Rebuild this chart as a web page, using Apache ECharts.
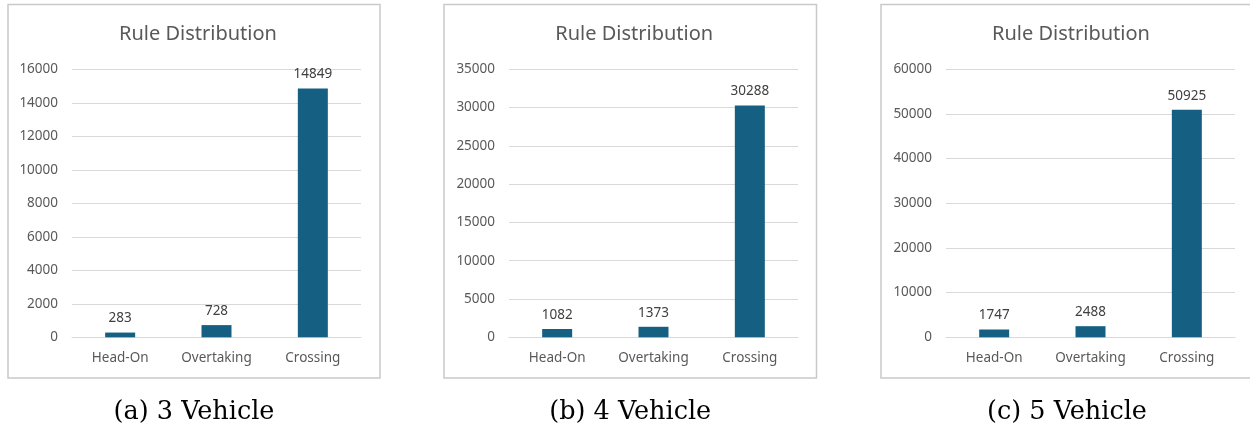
<!DOCTYPE html>
<html>
<head>
<meta charset="utf-8">
<script src="https://cdn.jsdelivr.net/npm/echarts@6/dist/echarts.min.js"></script>
<style>
  html, body { margin: 0; padding: 0; background: #ffffff; }
  #chart { width: 1250px; height: 428px; }
</style>
</head>
<body>
<div id="chart"></div>
<script>
// Rule counts per encounter type, for 3, 4 and 5 vehicle scenarios
const categories = ['Head-On', 'Overtaking', 'Crossing'];
const counts3 = [283, 728, 14849];
const counts4 = [1082, 1373, 30288];
const counts5 = [1747, 2488, 50925];
const captions = ['(a) 3 Vehicle', '(b) 4 Vehicle', '(c) 5 Vehicle'];
const chartTitle = 'Rule Distribution';
const axisMax = [16000, 35000, 60000];
const axisStep = [2000, 5000, 10000];

const seriesData = [counts3, counts4, counts5];

// panel frames: [left, right]
const panels = [[8, 380], [444, 816.5], [881, 1253]];
const plotLeft = [72, 509, 946];
const plotWidth = 289;
const plotTop = 69.3;
const plotHeight = 268;

const sans = '"Noto Sans", "Open Sans", sans-serif';
const serif = '"DejaVu Serif", serif';

const chart = echarts.init(document.getElementById('chart'), null, { renderer: 'canvas' });

const grids = [], xAxes = [], yAxes = [], series = [], titles = [], graphics = [];

panels.forEach((p, i) => {
  const center = (p[0] + p[1]) / 2;
  graphics.push({
    type: 'rect',
    shape: { x: p[0], y: 4.5, width: p[1] - p[0], height: 373.5 },
    style: { fill: 'none', stroke: '#c9c9c9', lineWidth: 1.5 },
    silent: true
  });
  graphics.push({
    type: 'text',
    x: center, y: 412,
    style: {
      text: captions[i],
      font: '25.5px ' + serif,
      fill: '#000000',
      align: 'center',
      verticalAlign: 'middle'
    }
  });
  titles.push({
    text: chartTitle,
    left: center - 1,
    top: 19,
    textAlign: 'center',
    textStyle: { fontFamily: sans, fontSize: 20, fontWeight: 'normal', color: '#595959' }
  });
  grids.push({ left: plotLeft[i], top: plotTop, width: plotWidth, height: plotHeight, containLabel: false });
  xAxes.push({
    type: 'category',
    gridIndex: i,
    data: categories,
    axisTick: { show: false },
    axisLine: { show: true, lineStyle: { color: '#d9d9d9', width: 1 } },
    axisLabel: { color: '#595959', fontFamily: sans, fontSize: 13.5, margin: 14 }
  });
  yAxes.push({
    type: 'value',
    gridIndex: i,
    min: 0,
    max: axisMax[i],
    interval: axisStep[i],
    axisLine: { show: false },
    axisTick: { show: false },
    axisLabel: {
      color: '#595959', fontFamily: sans, fontSize: 13.5, margin: 14,
      formatter: v => String(v)
    },
    splitLine: { lineStyle: { color: '#d9d9d9', width: 1 } }
  });
  series.push({
    type: 'bar',
    xAxisIndex: i,
    yAxisIndex: i,
    data: seriesData[i],
    barWidth: 30,
    itemStyle: { color: '#156082' },
    label: {
      show: true,
      position: 'top',
      distance: 7,
      color: '#404040',
      fontFamily: sans,
      fontSize: 13.5
    },
    silent: true,
    animation: false
  });
});

chart.setOption({
  backgroundColor: '#ffffff',
  animation: false,
  title: titles,
  grid: grids,
  xAxis: xAxes,
  yAxis: yAxes,
  series: series,
  graphic: graphics
});
</script>
</body>
</html>
